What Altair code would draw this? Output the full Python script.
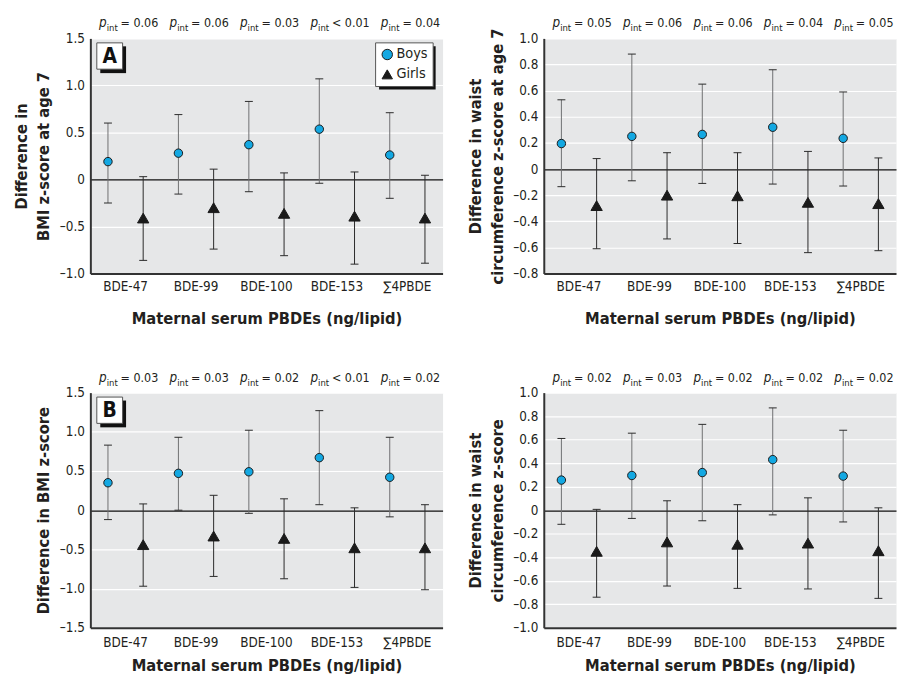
import altair as alt
import pandas as pd

FONT = "DejaVu Sans Condensed, Liberation Sans Narrow, sans-serif"
CATS = ["BDE-47", "BDE-99", "BDE-100", "BDE-153", "∑4PBDE"]
SEXES = ["Boys", "Girls"]
XTITLE = "Maternal serum PBDEs (ng/lipid)"

# Panel A, left: BMI z-score at age 7
A1_BOYS = [0.19, 0.28, 0.37, 0.535, 0.26]
A1_BOYS_LO = [-0.25, -0.155, -0.13, -0.04, -0.20]
A1_BOYS_HI = [0.60, 0.69, 0.83, 1.07, 0.71]
A1_GIRLS = [-0.41, -0.30, -0.36, -0.39, -0.41]
A1_GIRLS_LO = [-0.86, -0.74, -0.81, -0.90, -0.89]
A1_GIRLS_HI = [0.03, 0.11, 0.07, 0.08, 0.045]
A1_P = ["= 0.06", "= 0.06", "= 0.03", "< 0.01", "= 0.04"]

# Panel A, right: waist circumference z-score at age 7
A2_BOYS = [0.195, 0.25, 0.265, 0.32, 0.235]
A2_BOYS_LO = [-0.135, -0.09, -0.11, -0.115, -0.13]
A2_BOYS_HI = [0.53, 0.88, 0.65, 0.76, 0.59]
A2_GIRLS = [-0.28, -0.20, -0.205, -0.255, -0.265]
A2_GIRLS_LO = [-0.61, -0.535, -0.57, -0.64, -0.625]
A2_GIRLS_HI = [0.08, 0.125, 0.125, 0.135, 0.085]
A2_P = ["= 0.05", "= 0.06", "= 0.06", "= 0.04", "= 0.05"]

# Panel B, left: BMI z-score
B1_BOYS = [0.35, 0.47, 0.49, 0.67, 0.42]
B1_BOYS_LO = [-0.12, 0.0, -0.04, 0.07, -0.085]
B1_BOYS_HI = [0.83, 0.93, 1.02, 1.27, 0.93]
B1_GIRLS = [-0.44, -0.33, -0.36, -0.48, -0.48]
B1_GIRLS_LO = [-0.97, -0.845, -0.875, -0.985, -1.015]
B1_GIRLS_HI = [0.08, 0.19, 0.145, 0.03, 0.07]
B1_P = ["= 0.03", "= 0.03", "= 0.02", "< 0.01", "= 0.02"]

# Panel B, right: waist circumference z-score
B2_BOYS = [0.256, 0.295, 0.32, 0.43, 0.29]
B2_BOYS_LO = [-0.12, -0.07, -0.09, -0.04, -0.10]
B2_BOYS_HI = [0.61, 0.655, 0.73, 0.87, 0.68]
B2_GIRLS = [-0.35, -0.27, -0.29, -0.28, -0.345]
B2_GIRLS_LO = [-0.74, -0.645, -0.665, -0.67, -0.75]
B2_GIRLS_HI = [0.007, 0.08, 0.047, 0.105, 0.02]
B2_P = ["= 0.02", "= 0.03", "= 0.02", "= 0.02", "= 0.02"]

W, H = 355, 237
INK = "#231f20"


def make_panel(eb, lb, hb, eg, lg, hg, pvals, ydomain, yvalues, ytitle,
               letter=None, show_legend=False, xlab_pad=6, xtit_pad=18, ytit_pad=8):
    rows = []
    for i, c in enumerate(CATS):
        rows.append(dict(cat=c, sex="Boys", est=eb[i], lo=lb[i], hi=hb[i]))
        rows.append(dict(cat=c, sex="Girls", est=eg[i], lo=lg[i], hi=hg[i]))
    df = pd.DataFrame(rows)
    pdf = pd.DataFrame({"cat": CATS, "p": pvals})
    one = pd.DataFrame({"k": [0]})

    xenc = alt.X("cat:N", sort=CATS,
                 scale=alt.Scale(domain=CATS, paddingInner=0, paddingOuter=0),
                 axis=alt.Axis(title=XTITLE, labelAngle=0, ticks=False, grid=False,
                               labelPadding=xlab_pad, titlePadding=xtit_pad))
    xoff = alt.XOffset("sex:N", scale=alt.Scale(domain=SEXES, paddingInner=0, paddingOuter=0))
    yscale = alt.Scale(domain=ydomain, nice=False, zero=False)
    yaxis = alt.Axis(values=yvalues, title=ytitle, ticks=False, grid=True,
                     labelExpr="abs(datum.value) < 1e-9 ? '0' : replace(replace(format(datum.value, '.1f'), '\u2212', '\u2013'), '-', '\u2013')",
                     gridColor={"condition": {"test": "abs(datum.value) < 1e-9", "value": "#111111"},
                                "value": "#ffffff"},
                     labelPadding=6, titlePadding=ytit_pad)

    def Y(field):
        return alt.Y(field, scale=yscale, axis=yaxis)

    layers = []
    if letter is not None:
        layers.append(alt.Chart(one).mark_rect(color="#111111").encode(
            x=alt.value(10), x2=alt.value(36), y=alt.value(8), y2=alt.value(35)))
        layers.append(alt.Chart(one).mark_rect(fill="white", stroke="#555555", strokeWidth=1).encode(
            x=alt.value(6.5), x2=alt.value(32.5), y=alt.value(4.5), y2=alt.value(31)))
        layers.append(alt.Chart(one).mark_text(text=letter, font=FONT, fontSize=21, fontWeight="bold",
                                               color="#111111", baseline="middle", align="center").encode(
            x=alt.value(19.5), y=alt.value(18.5)))
    if show_legend:
        layers.append(alt.Chart(one).mark_rect(color="#111111").encode(
            x=alt.value(291), x2=alt.value(348), y=alt.value(8), y2=alt.value(51.5)))

    layers.append(alt.Chart(df).mark_rule(strokeWidth=1).encode(
        x=xenc, xOffset=xoff, y=Y("lo:Q"), y2="hi:Q",
        color=alt.condition(alt.datum.sex == "Boys", alt.value("#6f7072"), alt.value("#2a2a2a"))))
    layers.append(alt.Chart(df).mark_tick(size=8, thickness=1, color="#2a2a2a", opacity=1).encode(
        x=xenc, xOffset=xoff, y=Y("hi:Q")))
    layers.append(alt.Chart(df).mark_tick(size=8, thickness=1, color="#2a2a2a", opacity=1).encode(
        x=xenc, xOffset=xoff, y=Y("lo:Q")))

    if show_legend:
        leg = alt.Legend(title=None, orient="none", legendX=287, legendY=4, fillColor="white",
                         strokeColor="#555555", padding=5, labelFont=FONT, labelFontSize=14.5,
                         labelColor=INK, symbolSize=110, symbolStrokeColor="#1a1a1a",
                         symbolStrokeWidth=1, rowPadding=4, labelOffset=2)
    else:
        leg = None
    layers.append(alt.Chart(df).mark_point(filled=True, stroke="#1a1a1a", strokeWidth=1, opacity=1).encode(
        x=xenc, xOffset=xoff, y=Y("est:Q"),
        color=alt.Color("sex:N", scale=alt.Scale(domain=SEXES, range=["#13a8e2", "#1a1a1a"]), legend=leg),
        shape=alt.Shape("sex:N", scale=alt.Scale(domain=SEXES, range=["circle", "triangle-up"]), legend=leg),
        size=alt.condition(alt.datum.sex == "Boys", alt.value(72), alt.value(130))))

    layers.append(alt.Chart(pdf).mark_text(text="p", font=FONT, fontSize=13.5, fontStyle="italic",
                                           align="right", baseline="alphabetic", dx=-19,
                                           color=INK).encode(x=xenc, y=alt.value(-11)))
    layers.append(alt.Chart(pdf).mark_text(text="int", font=FONT, fontSize=9.5,
                                           align="left", baseline="alphabetic", dx=-19,
                                           color=INK).encode(x=xenc, y=alt.value(-7)))
    layers.append(alt.Chart(pdf).mark_text(font=FONT, fontSize=12.5, align="left", baseline="alphabetic",
                                           dx=-5, color=INK).encode(x=xenc, y=alt.value(-11), text="p:N"))

    return alt.layer(*layers).properties(width=W, height=H)


pA1 = make_panel(A1_BOYS, A1_BOYS_LO, A1_BOYS_HI, A1_GIRLS, A1_GIRLS_LO, A1_GIRLS_HI, A1_P,
                 [-1.0, 1.5], [1.5, 1.0, 0.5, 0.0, -0.5, -1.0],
                 ["Difference in", "BMI z-score at age 7"], letter="A", show_legend=True)
pA2 = make_panel(A2_BOYS, A2_BOYS_LO, A2_BOYS_HI, A2_GIRLS, A2_GIRLS_LO, A2_GIRLS_HI, A2_P,
                 [-0.8, 1.0], [1.0, 0.8, 0.6, 0.4, 0.2, 0.0, -0.2, -0.4, -0.6, -0.8],
                 ["Difference in waist", "circumference z-score at age 7"], ytit_pad=7)
pB1 = make_panel(B1_BOYS, B1_BOYS_LO, B1_BOYS_HI, B1_GIRLS, B1_GIRLS_LO, B1_GIRLS_HI, B1_P,
                 [-1.5, 1.5], [1.5, 1.0, 0.5, 0.0, -0.5, -1.0, -1.5],
                 "Difference in BMI z-score", letter="B", xlab_pad=8, xtit_pad=9)
pB2 = make_panel(B2_BOYS, B2_BOYS_LO, B2_BOYS_HI, B2_GIRLS, B2_GIRLS_LO, B2_GIRLS_HI, B2_P,
                 [-1.0, 1.0], [1.0, 0.8, 0.6, 0.4, 0.2, 0.0, -0.2, -0.4, -0.6, -0.8, -1.0],
                 ["Difference in waist", "circumference z-score"], xlab_pad=8, xtit_pad=9, ytit_pad=7)

chart = alt.concat(pA1, pA2, pB1, pB2, columns=2, spacing={"row": 120, "column": 102},
                   bounds="flush").resolve_scale(
    color="independent", shape="independent"
).properties(
    padding={"left": 5, "top": 5, "right": 0, "bottom": 0}
).configure_view(
    fill="#e6e7e8", stroke="transparent"
).configure_axis(
    labelFont=FONT, titleFont=FONT, labelFontSize=13.5, titleFontSize=16.5, titleFontWeight="bold",
    labelColor=INK, titleColor=INK, domainColor="#333333", domainWidth=2,
    titleLineHeight=22, gridWidth=1.2
)

chart.save("out.html", embed_options={"renderer": "svg", "actions": False})
